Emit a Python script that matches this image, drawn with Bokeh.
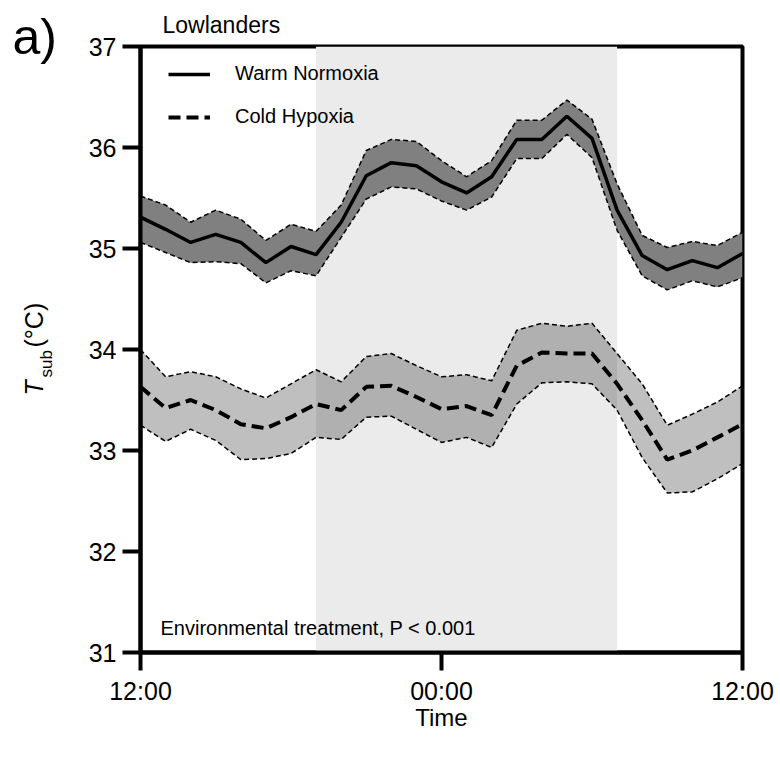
import math
from bokeh.plotting import figure
from bokeh.layouts import row
from bokeh.models import Label, Legend, LegendItem, FixedTicker, BoxAnnotation, Title
from bokeh.core.properties import value
from bokeh.embed import file_html
from bokeh.resources import INLINE

# Hours after 12:00 (noon) -> 24 h
hours = list(range(25))

warm_mean = [35.31, 35.19, 35.06, 35.14, 35.06, 34.86, 35.02, 34.94, 35.26, 35.72, 35.85, 35.82, 35.66,
             35.55, 35.71, 36.08, 36.08, 36.31, 36.09, 35.38, 34.93, 34.79, 34.88, 34.81, 34.95]
warm_upper = [35.52, 35.43, 35.26, 35.38, 35.29, 35.08, 35.24, 35.17, 35.43, 35.97, 36.08, 36.06, 35.87,
              35.71, 35.87, 36.27, 36.27, 36.47, 36.28, 35.64, 35.13, 35.01, 35.07, 35.03, 35.16]
warm_lower = [35.06, 34.96, 34.86, 34.87, 34.85, 34.66, 34.78, 34.73, 35.11, 35.49, 35.61, 35.59, 35.47,
              35.38, 35.51, 35.89, 35.89, 36.13, 35.90, 35.18, 34.73, 34.59, 34.68, 34.62, 34.71]

cold_mean = [33.63, 33.42, 33.50, 33.40, 33.26, 33.22, 33.33, 33.46, 33.40, 33.63, 33.64, 33.53, 33.41,
             33.44, 33.35, 33.84, 33.97, 33.96, 33.96, 33.66, 33.30, 32.91, 33.00, 33.13, 33.26]
cold_upper = [34.00, 33.73, 33.78, 33.73, 33.61, 33.52, 33.66, 33.80, 33.68, 33.93, 33.96, 33.84, 33.73,
              33.75, 33.69, 34.19, 34.26, 34.23, 34.26, 33.96, 33.66, 33.25, 33.36, 33.48, 33.64]
cold_lower = [33.25, 33.09, 33.21, 33.10, 32.91, 32.92, 32.97, 33.13, 33.11, 33.33, 33.34, 33.21, 33.08,
              33.13, 33.03, 33.46, 33.67, 33.68, 33.66, 33.40, 32.93, 32.58, 32.59, 32.72, 32.87]

night_start, night_end = 7, 19
x_ticks = [0, 12, 24]
x_tick_labels = ["12:00", "00:00", "12:00"]
y_ticks = [31, 32, 33, 34, 35, 36, 37]

FONT = "Liberation Sans"
H = 758
TOP, BOTTOM, FRAME_H = 46, 106, 606
W_LEFT = 80

# ---------------- left strip: panel letter and y-axis title ----------------
# Same vertical geometry as the main plot; its y coordinate is (H - pixel row).
side = figure(width=W_LEFT, height=H, frame_width=W_LEFT, frame_height=FRAME_H,
              x_range=(0, W_LEFT), y_range=(BOTTOM, H - TOP),
              x_axis_location=None, y_axis_location=None,
              output_backend="svg", toolbar_location=None,
              min_border_left=0, min_border_right=0, min_border_top=TOP, min_border_bottom=BOTTOM)
side.grid.visible = False
side.outline_line_color = None
side.background_fill_color = "white"
side.border_fill_color = "white"
side.title = Title(text="a)", align="left", offset=12, text_font=FONT, text_font_size="50px",
                   text_font_style="normal", text_color="black", standoff=-36)

side.text(x=[33], y=[H - 395], text=["T"], angle=math.pi / 2, text_font=value(FONT),
          text_font_size="25px", text_font_style="italic",
          text_baseline="middle", text_align="left", text_color="black")
side.text(x=[46], y=[H - 377], text=["sub"], angle=math.pi / 2, text_font=value(FONT),
          text_font_size="17px", text_baseline="middle", text_align="left", text_color="black")
side.text(x=[33], y=[H - 347], text=["(°C)"], angle=math.pi / 2, text_font=value(FONT),
          text_font_size="25px", text_baseline="middle", text_align="left", text_color="black")

# ---------------- main plot ----------------
p = figure(width=780 - W_LEFT, height=H, frame_width=602, frame_height=FRAME_H,
           x_range=(0, 24), y_range=(31, 37),
           output_backend="svg", toolbar_location=None,
           min_border_left=140 - W_LEFT, min_border_right=38, min_border_top=TOP, min_border_bottom=BOTTOM)
p.grid.visible = False
p.outline_line_color = "black"
p.outline_line_width = 4
p.background_fill_color = "white"
p.border_fill_color = "white"

p.title = Title(text="Lowlanders", align="left", offset=22, text_font=FONT,
                text_font_size="23px", text_font_style="normal", text_color="black", standoff=17)

p.add_layout(BoxAnnotation(left=night_start, right=night_end, fill_color="#ebebeb",
                           fill_alpha=1.0, line_color=None, level="underlay"))

# Cold hypoxia band
p.varea(x=hours, y1=cold_lower, y2=cold_upper, fill_color="black", fill_alpha=0.25)
p.line(hours, cold_upper, line_color="black", line_width=1.5, line_dash="5 3")
p.line(hours, cold_lower, line_color="black", line_width=1.5, line_dash="5 3")
cold_line = p.line(hours, cold_mean, line_color="black", line_width=4, line_dash="12 6")

# Warm normoxia band
p.varea(x=hours, y1=warm_lower, y2=warm_upper, fill_color="#808080", fill_alpha=1.0)
p.line(hours, warm_upper, line_color="black", line_width=1.5, line_dash="5 3")
p.line(hours, warm_lower, line_color="black", line_width=1.5, line_dash="5 3")
warm_line = p.line(hours, warm_mean, line_color="black", line_width=3.5)

# Axes
for ax in (p.xaxis, p.yaxis):
    ax.axis_line_width = 4
    ax.major_tick_line_width = 4
    ax.major_tick_out = 18
    ax.major_tick_in = 0
    ax.minor_tick_line_color = None
    ax.major_label_text_font = FONT
    ax.major_label_text_font_size = "25px"
    ax.major_label_text_color = "black"
    ax.major_label_standoff = 6

p.xaxis.ticker = FixedTicker(ticks=x_ticks)
p.xaxis.major_label_overrides = {t: l for t, l in zip(x_ticks, x_tick_labels)}
p.xaxis.axis_label = "Time"
p.xaxis.axis_label_text_font = FONT
p.xaxis.axis_label_text_font_size = "24px"
p.xaxis.axis_label_text_font_style = "normal"
p.xaxis.axis_label_text_color = "black"
p.xaxis.axis_label_standoff = -4
p.yaxis.ticker = FixedTicker(ticks=y_ticks)

# Legend
legend = Legend(items=[LegendItem(label="Warm Normoxia", renderers=[warm_line]),
                       LegendItem(label="Cold Hypoxia", renderers=[cold_line])],
                location=(28, 524), orientation="vertical",
                border_line_color=None, background_fill_alpha=0,
                padding=0, margin=0, spacing=20, glyph_width=42, glyph_height=20,
                label_height=20, label_standoff=25, label_text_color="black",
                label_text_font=FONT, label_text_font_size="20px")
p.add_layout(legend, "center")

p.add_layout(Label(x=20, y=25, x_units="screen", y_units="screen",
                   text="Environmental treatment, P < 0.001", text_color="black",
                   text_font=FONT, text_font_size="20px", text_baseline="alphabetic"))

layout = row(side, p, spacing=0)
open("out.html", "w").write(file_html(layout, INLINE))
